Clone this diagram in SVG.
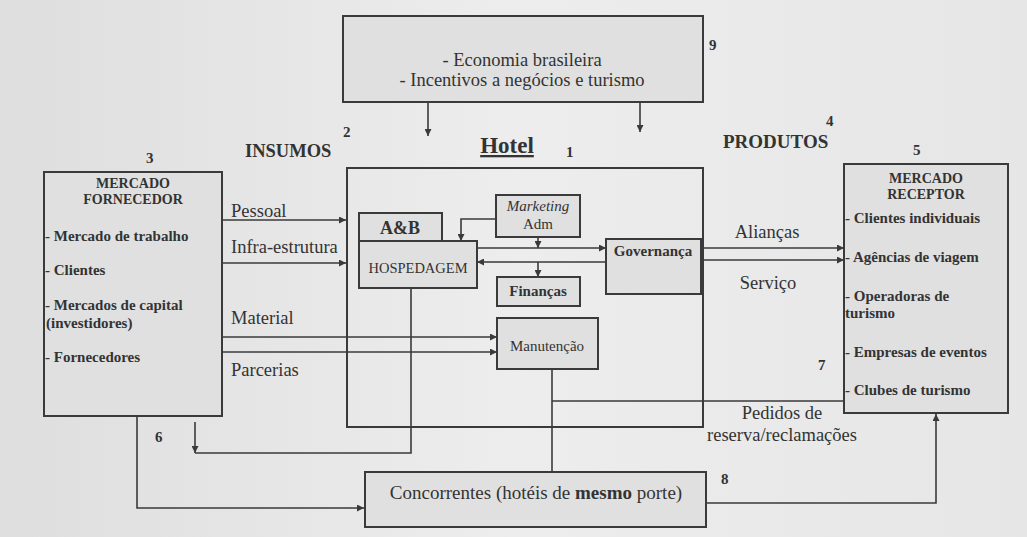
<svg xmlns="http://www.w3.org/2000/svg" width="1027" height="537" viewBox="0 0 1027 537" font-family="'Liberation Serif', 'Times New Roman', 'DejaVu Serif', serif">
<defs>
<linearGradient id="bg" x1="0" y1="0" x2="1" y2="0">
<stop offset="0" stop-color="#dedede"/>
<stop offset="0.5" stop-color="#ededed"/>
<stop offset="1" stop-color="#e6e6e6"/>
</linearGradient>
<marker id="ah" viewBox="0 0 10 10" refX="10" refY="5" markerWidth="7" markerHeight="7" markerUnits="userSpaceOnUse" orient="auto">
<path d="M0,0 L10,5 L0,10 z" fill="#3a3a3a"/>
</marker>
<style>
.box{fill:#e0e0e0;stroke:#3a3a3a;stroke-width:2}
.big{fill:none;stroke:#3a3a3a;stroke-width:2}
.t{font-family:'Liberation Serif','Times New Roman','DejaVu Serif',serif;fill:#333}
.b{font-weight:bold}
.c{text-anchor:middle}
.s{font-size:15px}
.m{font-size:14px}
.n{font-size:15px;font-weight:bold}
.lbl{font-size:18.5px}
.ln{fill:none;stroke:#3a3a3a;stroke-width:1.6}
.ar{marker-end:url(#ah)}
</style>
</defs>
<rect x="0" y="0" width="1027" height="537" fill="url(#bg)"/>

<g id="conectores">
<path class="ln ar" d="M428,103 V136"/>
<path class="ln ar" d="M640,101 V132"/>
<path class="ln ar" d="M222,220 H346"/>
<path class="ln ar" d="M222,263 H346"/>
<path class="ln ar" d="M222,337 H497"/>
<path class="ln ar" d="M222,352 H497"/>
<path class="ln ar" d="M703,248 H844"/>
<path class="ln ar" d="M703,260 H844"/>
<path class="ln ar" d="M496,219 H461 V241"/>
<path class="ln ar" d="M477,248 H606"/>
<path class="ln ar" d="M606,262 H477"/>
<path class="ln ar" d="M538,237 V248"/>
<path class="ln ar" d="M538,262 V277"/>
<path class="ln" d="M552,369 V472"/>
<path class="ln ar" d="M552,401 H860 V370"/>
<path class="ln" d="M411,288 V453 H195"/>
<path class="ln ar" d="M195,422 V453"/>
<path class="ln ar" d="M137,415 V508 H364"/>
<path class="ln ar" d="M706,503 H936 V414"/>
</g>

<g id="ambiente">
<rect class="box" x="343" y="16" width="360" height="86"/>
<text class="t c" x="522" y="66" font-size="18.5">- Economia brasileira</text>
<text class="t c" x="522" y="86" font-size="18.5">- Incentivos a negócios e turismo</text>
</g>

<g id="hotel">
<rect class="big" x="347" y="168" width="356" height="259"/>
<text class="t c b" x="507" y="153" font-size="23" text-decoration="underline">Hotel</text>
</g>

<g id="ab">
<rect class="box" x="359" y="213" width="83" height="28"/>
<text class="t c b" x="400" y="234" font-size="18">A&amp;B</text>
</g>
<g id="hospedagem">
<rect class="box" x="359" y="241" width="118" height="47"/>
<text class="t c" x="418" y="273" font-size="14.5">HOSPEDAGEM</text>
</g>
<g id="marketing">
<rect class="box" x="496" y="195" width="84" height="42"/>
<text class="t c s" x="538" y="211" font-style="italic">Marketing</text>
<text class="t c s" x="538" y="229">Adm</text>
</g>
<g id="financas">
<rect class="box" x="497" y="277" width="83" height="29"/>
<text class="t c s b" x="538" y="296">Finanças</text>
</g>
<g id="governanca">
<rect class="box" x="606" y="239" width="95" height="55"/>
<text class="t c s b" x="653" y="256">Governança</text>
</g>
<g id="manutencao">
<rect class="box" x="497" y="318" width="101" height="51"/>
<text class="t c s" x="547" y="351">Manutenção</text>
</g>

<g id="fornecedor">
<rect class="box" x="44" y="172" width="178" height="244"/>
<text class="t c m b" x="133" y="188">MERCADO</text>
<text class="t c m b" x="133" y="204">FORNECEDOR</text>
<text class="t s b" x="45" y="241">- Mercado de trabalho</text>
<text class="t s b" x="45" y="275">- Clientes</text>
<text class="t s b" x="45" y="310">- Mercados de capital</text>
<text class="t s b" x="46" y="328">(investidores)</text>
<text class="t s b" x="45" y="362">- Fornecedores</text>
</g>

<g id="receptor">
<rect class="box" x="844" y="164" width="164" height="249"/>
<text class="t c m b" x="926" y="183">MERCADO</text>
<text class="t c m b" x="926" y="199">RECEPTOR</text>
<text class="t s b" x="845" y="223">- Clientes individuais</text>
<text class="t s b" x="845" y="262">- Agências de viagem</text>
<text class="t s b" x="845" y="301">- Operadoras de</text>
<text class="t s b" x="845" y="318">turismo</text>
<text class="t s b" x="845" y="357">- Empresas de eventos</text>
<text class="t s b" x="845" y="395">- Clubes de turismo</text>
</g>

<g id="concorrentes">
<rect class="box" x="365" y="472" width="341" height="55"/>
<text class="t c" x="536" y="499" font-size="19">Concorrentes (hotéis de <tspan font-weight="bold">mesmo</tspan> porte)</text>
</g>

<g id="rotulos">
<text class="t b" x="245" y="157" font-size="18.5">INSUMOS</text>
<text class="t b" x="723" y="148" font-size="19">PRODUTOS</text>
<text class="t lbl" x="231" y="217">Pessoal</text>
<text class="t lbl" x="231" y="253">Infra-estrutura</text>
<text class="t lbl" x="231" y="324">Material</text>
<text class="t lbl" x="231" y="376">Parcerias</text>
<text class="t lbl c" x="767" y="238">Alianças</text>
<text class="t lbl c" x="768" y="289">Serviço</text>
<text class="t lbl c" x="782" y="419">Pedidos de</text>
<text class="t lbl c" x="782" y="441">reserva/reclamações</text>
<text class="t n" x="709" y="50">9</text>
<text class="t n" x="343" y="137">2</text>
<text class="t n" x="826" y="126">4</text>
<text class="t n" x="913" y="155">5</text>
<text class="t n" x="146" y="163">3</text>
<text class="t n" x="566" y="157">1</text>
<text class="t n" x="155" y="442">6</text>
<text class="t n" x="818" y="370">7</text>
<text class="t n" x="721" y="484">8</text>
</g>
</svg>
